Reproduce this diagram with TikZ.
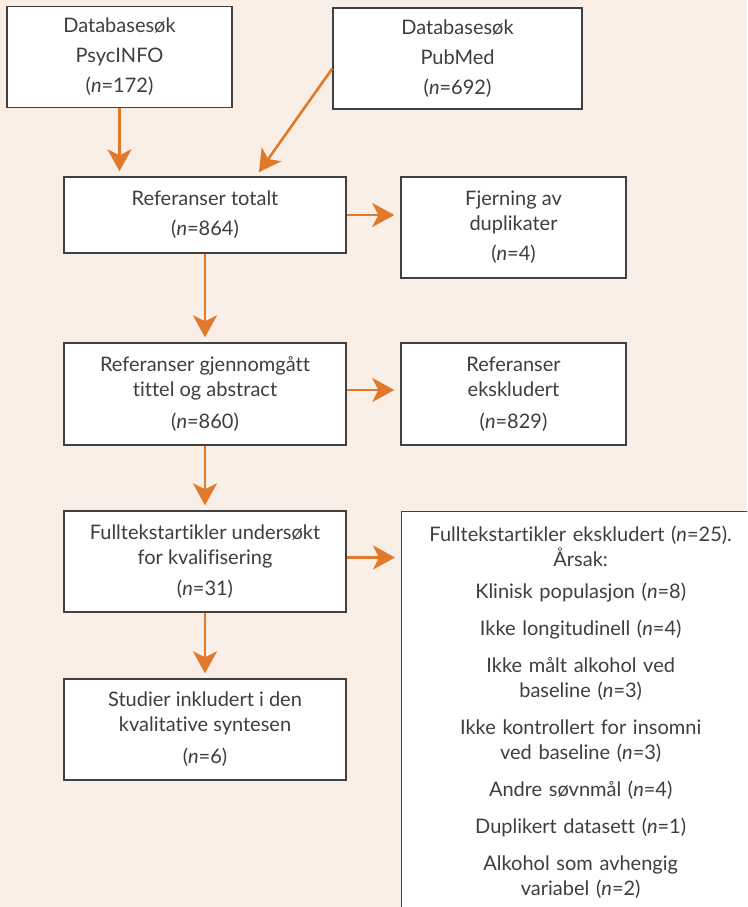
\documentclass[tikz,border=0pt]{standalone}
\usepackage{fontspec}
\setmainfont{Lato}[Ligatures=NoCommon]
\usetikzlibrary{arrows.meta,calc}
\definecolor{bg_color}{RGB}{250,239,230}
\definecolor{arrow_color}{RGB}{226,121,42}
\definecolor{border_color}{RGB}{64,64,64}
\definecolor{text_color}{RGB}{62,62,62}
\tikzset{
  stepbox/.style={
    draw=border_color, line width=1.4pt, fill=white, text=text_color,
    align=center, font=\fontsize{20}{25}\selectfont, inner sep=0pt
  },
  flowlink/.style={
    draw=arrow_color, line width=2.6pt,
    -{Stealth[length=22pt, width=24pt, inset=6pt]}, shorten >=5pt
  }
}
\begin{document}
\begin{tikzpicture}

\useasboundingbox (0,0) rectangle (747pt,-907pt);
\clip (0,0) rectangle (747pt,-907pt);
\fill[bg_color] (0,0) rectangle (747pt,-907pt);

\node[stepbox, minimum width=225pt, minimum height=101pt] (psyc) at (119.5pt,-57pt) {Databasesøk\\[5pt]PsycINFO\\[5pt](\textit{n}=172)};
\node[stepbox, minimum width=249pt, minimum height=101pt] (pubmed) at (457.5pt,-58.5pt) {Databasesøk\\[5pt]PubMed\\[5pt](\textit{n}=692)};

\node[stepbox, minimum width=282pt, minimum height=76pt] (total) at (205pt,-215pt) {Referanser totalt\\[5pt](\textit{n}=864)};
\node[stepbox, minimum width=225pt, minimum height=101pt] (dup) at (513.5pt,-227.5pt) {Fjerning av\\duplikater\\[5pt](\textit{n}=4)};

\node[stepbox, minimum width=282pt, minimum height=102pt] (screen) at (205pt,-394pt) {Referanser gjennomgått\\tittel og abstract\\[7pt](\textit{n}=860)};
\node[stepbox, minimum width=225pt, minimum height=102pt] (screen_ex) at (513.5pt,-394pt) {Referanser\\ekskludert\\[7pt](\textit{n}=829)};

\node[stepbox, minimum width=282pt, minimum height=101pt] (full) at (205pt,-561.5pt) {Fulltekstartikler undersøkt\\for kvalifisering\\[6pt](\textit{n}=31)};
\node[stepbox, anchor=north west, text width=358pt, inner ysep=14pt] (full_ex) at (401pt,-511pt) {Fulltekstartikler ekskludert (\textit{n}=25).\\Årsak:\\[7pt]Klinisk populasjon (\textit{n}=8)\\[12pt]Ikke longitudinell (\textit{n}=4)\\[12pt]Ikke målt alkohol ved\\baseline (\textit{n}=3)\\[12pt]Ikke kontrollert for insomni\\ved baseline (\textit{n}=3)\\[12pt]Andre søvnmål (\textit{n}=4)\\[12pt]Duplikert datasett (\textit{n}=1)\\[12pt]Alkohol som avhengig\\variabel (\textit{n}=2)};

\node[stepbox, minimum width=282pt, minimum height=101pt] (incl) at (205pt,-729.5pt) {Studier inkludert i den\\kvalitative syntesen\\[7pt](\textit{n}=6)};

\coordinate (pub_out) at ($(pubmed.west)+(0,-10pt)$);
\coordinate (pub_in) at ($(total.north)+(51pt,0)$);
\draw[flowlink] (psyc.south) -- (psyc.south |- total.north);
\draw[flowlink] (pub_out) -- (pub_in);
\draw[flowlink] (total.south) -- (screen.north);
\draw[flowlink] (screen.south) -- (full.north);
\draw[flowlink] (full.south) -- (incl.north);
\draw[flowlink, shorten >=6pt] (total.east) -- (total.east -| dup.west);
\draw[flowlink, shorten >=6pt] ([yshift=4pt]screen.east) -- ([yshift=4pt]screen.east -| screen_ex.west);
\draw[flowlink, shorten >=6pt] ([yshift=4pt]full.east) -- ([yshift=4pt]full.east -| full_ex.west);

\end{tikzpicture}
\end{document}
